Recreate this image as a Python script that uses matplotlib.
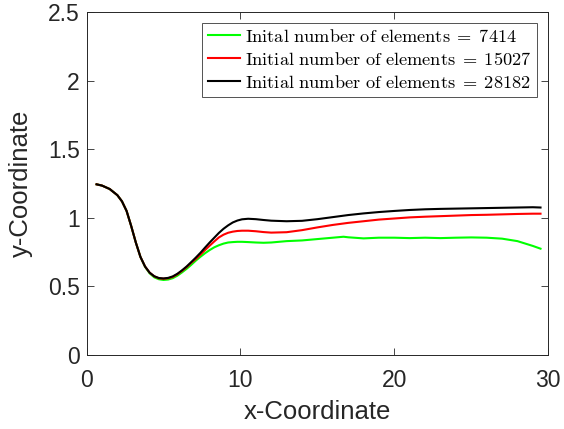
import matplotlib
matplotlib.use("Agg")
import matplotlib.pyplot as plt

plt.rcParams['mathtext.fontset'] = 'cm'
plt.rcParams['font.family'] = ['Liberation Sans', 'DejaVu Sans']

x_black = [0.65, 1.0, 1.5, 2.0, 2.3, 2.6, 2.9, 3.2, 3.5, 3.8, 4.1, 4.4, 4.7, 5.0, 5.3, 5.6, 5.9,
           6.2, 6.5, 6.8, 7.1, 7.4, 7.7, 8.0, 8.3, 8.6, 8.9, 9.2, 9.5, 9.8, 10.1, 10.5, 11, 11.5,
           12, 13, 14, 15, 16, 17, 18, 19, 20, 21, 22, 23, 24, 25, 26, 27, 28, 29, 29.5]
y_black = [1.244, 1.235, 1.21, 1.165, 1.12, 1.05, 0.94, 0.82, 0.715, 0.645, 0.60, 0.574, 0.561,
           0.558, 0.562, 0.573, 0.592, 0.617, 0.645, 0.677, 0.71, 0.745, 0.783, 0.82, 0.855,
           0.89, 0.92, 0.945, 0.966, 0.98, 0.989, 0.993, 0.99, 0.984, 0.979, 0.975, 0.978, 0.99,
           1.005, 1.02, 1.032, 1.042, 1.05, 1.057, 1.062, 1.065, 1.067, 1.069, 1.071, 1.073,
           1.075, 1.077, 1.075]

x_red = [0.65, 1.0, 1.5, 2.0, 2.3, 2.6, 2.9, 3.2, 3.5, 3.8, 4.1, 4.4, 4.7, 5.0, 5.3, 5.6, 5.9,
         6.2, 6.5, 6.8, 7.1, 7.4, 7.7, 8.0, 8.3, 8.6, 8.9, 9.2, 9.5, 9.8, 10.1, 10.5, 11, 11.5,
         12, 13, 14, 15, 16, 17, 18, 19, 20, 21, 22, 23, 24, 25, 26, 27, 28, 29, 29.5]
y_red = [1.244, 1.235, 1.21, 1.165, 1.12, 1.05, 0.94, 0.82, 0.715, 0.645, 0.60, 0.573, 0.559,
         0.556, 0.559, 0.569, 0.588, 0.613, 0.64, 0.672, 0.70, 0.732, 0.765, 0.797, 0.828,
         0.857, 0.877, 0.891, 0.899, 0.904, 0.906, 0.906, 0.902, 0.896, 0.892, 0.895, 0.91,
         0.93, 0.948, 0.963, 0.975, 0.987, 0.995, 1.003, 1.008, 1.012, 1.016, 1.02, 1.022,
         1.025, 1.028, 1.03, 1.03]

x_green = [0.65, 1.0, 1.5, 2.0, 2.3, 2.6, 2.9, 3.2, 3.5, 3.8, 4.1, 4.4, 4.7, 5.0, 5.3, 5.6, 5.9,
           6.2, 6.5, 6.8, 7.1, 7.4, 7.7, 8.0, 8.3, 8.6, 8.9, 9.2, 9.5, 9.8, 10.1, 10.5, 11, 11.5,
           12, 13, 14, 15, 16, 16.7, 17, 18, 19, 20, 21, 22, 23, 24, 25, 26, 27, 28, 29, 29.5]
y_green = [1.244, 1.235, 1.21, 1.165, 1.12, 1.05, 0.94, 0.82, 0.715, 0.643, 0.595, 0.566,
           0.552, 0.547, 0.55, 0.56, 0.578, 0.602, 0.628, 0.657, 0.688, 0.716, 0.742, 0.765,
           0.785, 0.80, 0.812, 0.82, 0.823, 0.825, 0.825, 0.823, 0.82, 0.818, 0.82, 0.83, 0.835,
           0.845, 0.855, 0.862, 0.858, 0.85, 0.855, 0.855, 0.852, 0.855, 0.852, 0.855, 0.857,
           0.855, 0.848, 0.83, 0.795, 0.775]

labels = [r'$\mathrm{Inital\ number\ of\ elements}\;=\;7414$',
          r'$\mathrm{Initial\ number\ of\ elements}\;=\;15027$',
          r'$\mathrm{Initial\ number\ of\ elements}\;=\;28182$']

xticks = [0, 10, 20, 30]
yticks = [0, 0.5, 1, 1.5, 2, 2.5]
ytick_labels = ['0', '0.5', '1', '1.5', '2', '2.5']

fig = plt.figure(figsize=(5.64, 4.29), dpi=100)
ax = fig.add_axes([0.1535, 0.1725, 0.8185, 0.7995])

ax.plot(x_green, y_green, color='#00ff00', lw=1.5, label=labels[0])
ax.plot(x_red, y_red, color='#ff0000', lw=1.5, label=labels[1])
ax.plot(x_black, y_black, color='#000000', lw=1.5, label=labels[2])

ax.set_xlim(0, 30)
ax.set_ylim(0, 2.5)
ax.set_xticks(xticks)
ax.set_xticklabels([str(t) for t in xticks])
ax.set_yticks(yticks)
ax.set_yticklabels(ytick_labels)
ax.tick_params(direction='in', length=5, width=0.6, top=True, right=True,
               labelsize=16.5, colors='#262626')
ax.tick_params(axis='x', pad=10)
ax.tick_params(axis='y', pad=5)
for s in ax.spines.values():
    s.set_color('#262626')
    s.set_linewidth(0.7)

ax.set_xlabel('x-Coordinate', fontsize=18.5, color='#262626', labelpad=6)
ax.set_ylabel('y-Coordinate', fontsize=18.5, color='#262626', labelpad=11)

leg = ax.legend(loc='upper right', fontsize=13.2, frameon=True, fancybox=False,
                edgecolor='#262626', handlelength=1.75, handletextpad=0.3,
                borderpad=0.3, labelspacing=0.33, borderaxespad=0.6)
leg.get_frame().set_linewidth(0.7)

fig.savefig('out.png', dpi=100)
